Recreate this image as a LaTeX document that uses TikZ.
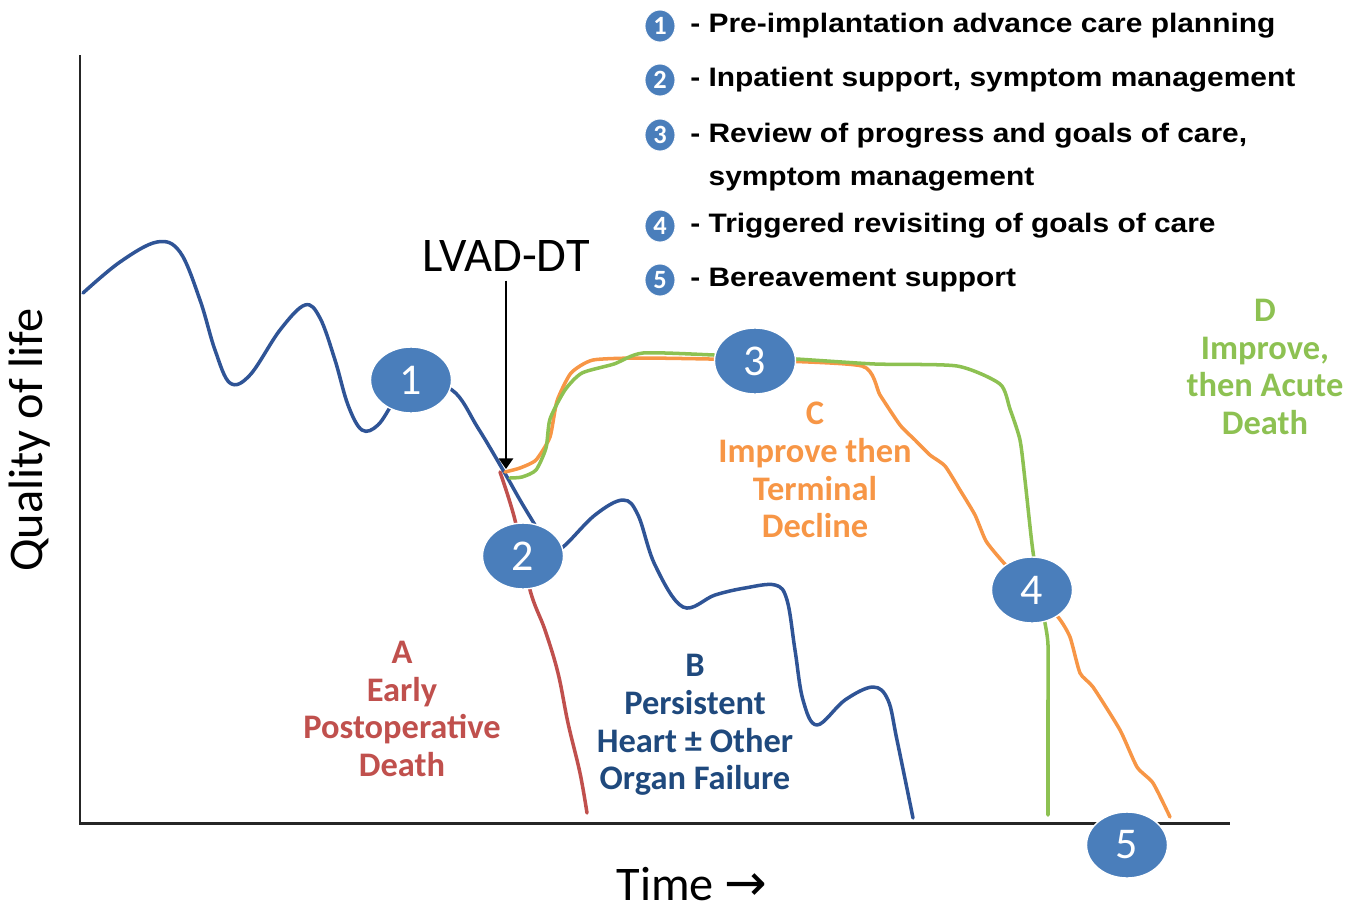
\documentclass[tikz,border=0pt]{standalone}
\usepackage{fontspec}
\setmainfont{Carlito}
\newfontfamily\legendfont[FakeStretch=1.12]{Liberation Sans}
\newfontfamily\symfont{DejaVu Sans}
\usetikzlibrary{shapes.geometric,arrows.meta}

\definecolor{markblue}{HTML}{4A7EBB}
\definecolor{lineblue}{HTML}{2F5496}
\definecolor{textblue}{HTML}{1F497D}
\definecolor{linered}{HTML}{C0504D}
\definecolor{lineorange}{HTML}{F79646}
\definecolor{linegreen}{HTML}{8DC152}
\definecolor{axisgray}{HTML}{262626}

\tikzset{
  marker/.style={ellipse, fill=markblue, draw=white, line width=0.8pt,
    minimum width=1.62cm, minimum height=1.32cm, inner sep=0pt, text=white,
    font=\fontsize{25}{25}\selectfont},
  keymark/.style={ellipse, fill=markblue, draw=white, line width=0.5pt,
    minimum width=0.6cm, minimum height=0.64cm, inner sep=0pt, text=white,
    font=\bfseries\fontsize{15}{15}\selectfont},
  keytext/.style={anchor=west, inner sep=0pt, align=left,
    font=\legendfont\bfseries\fontsize{15.2}{24.4}\selectfont},
  traj/.style={line width=2pt, line join=round, line cap=round},
  tag/.style={align=center, inner sep=0pt, font=\bfseries\fontsize{19.6}{21.5}\selectfont},
  bigtext/.style={font=\fontsize{27.5}{30}\selectfont}
}

\begin{document}
\begin{tikzpicture}[x=0.02cm,y=-0.02cm]
\useasboundingbox (0,0) rectangle (1347,914);

% Ejes
\draw[axisgray, line width=1.7pt] (80,55) -- (80,823) -- (1230,823);
\node[bigtext, rotate=90] (qol) at (30,440) {Quality of life};
\node[bigtext, inner sep=0pt] (time) at (692,884) {Time {\symfont\fontsize{29}{29}\selectfont →}};

% Trayectorias
\draw[traj, linered] plot[smooth, tension=0.6] coordinates {(500,472) (515,520) (530,590)
  (545,630) (558,673) (568,723) (580,773) (587,813)};

\draw[traj, lineblue] plot[smooth, tension=0.6] coordinates {(83,293) (120,262) (157,242)
  (180,252) (200,300) (215,350) (230,383) (250,375) (280,330) (305,305) (320,318)
  (335,360) (348,405) (362,430) (378,425) (395,400) (412,382) (452,390) (478,428) (503,470)
  (520,500) (535,525) (550,550) (563,547) (595,515) (623,500) (638,515) (655,565)
  (683,607) (715,595) (745,588) (775,585) (787,600) (795,650) (803,700) (817,725)
  (845,700) (873,687) (888,700) (897,740) (913,818)};

\draw[traj, lineorange] plot[smooth, tension=0.35] coordinates {(505,472) (520,468) (536,460)
  (550,437) (557,401) (571,373) (593,360) (643,358) (750,360) (862,366) (880,395)
  (900,425) (915,440) (930,455) (945,466) (960,490) (975,515) (986,541) (1003,562)
  (1030,590) (1058,617) (1070,637) (1080,673) (1093,687) (1120,730) (1137,767)
  (1153,783) (1170,817)};

\draw[traj, linegreen] plot[smooth, tension=0.4] coordinates {(510,478) (522,477) (536,470)
  (546,448) (550,419) (565,390) (582,373) (614,364) (643,353) (714,355) (796,359)
  (875,364) (957,366) (1000,384) (1010,409) (1020,440) (1025,480) (1032,544)
  (1040,600) (1045,623) (1048,645) (1048,700) (1048,815)};

% LVAD-DT
\node[bigtext, inner sep=5pt] (lvad) at (506,256) {LVAD-DT};
\coordinate (dt) at (506,469);
\draw[line width=1.3pt, -{Triangle[width=8pt,length=6pt]}] (lvad.south) -- (dt);

% Marcas
\node[marker] (m1) at (411,380) {1};
\node[marker] (m2) at (523,556) {2};
\node[marker] (m3) at (755,361) {3};
\node[marker] (m4) at (1032,590) {4};
\node[marker] (m5) at (1127,845) {5};

% Etiquetas
\node[tag, linered] (tagA) at (402,709) {A\\Early\\Postoperative\\Death};
\node[tag, textblue] (tagB) at (695,725) {B\\Persistent\\Heart ± Other\\Organ Failure};
\node[tag, lineorange] (tagC) at (815,470) {C\\Improve then\\Terminal\\Decline};
\node[tag, linegreen] (tagD) at (1265,367) {D\\Improve,\\then Acute\\Death};

% Leyenda
\foreach \n/\yk/\yt/\txt in {1/26/26/{- Pre-implantation advance care planning},
    2/80/80/{- Inpatient support, symptom management},
    3/135/157/{- Review of progress and goals of care,\\\phantom{- }symptom management},
    4/226/226/{- Triggered revisiting of goals of care},
    5/280/280/{- Bereavement support}} {
  \node[keymark] (k\n) at (660,\yk) {\n};
  \node[keytext] (t\n) at (690,\yt) {\txt};
}
\end{tikzpicture}
\end{document}
